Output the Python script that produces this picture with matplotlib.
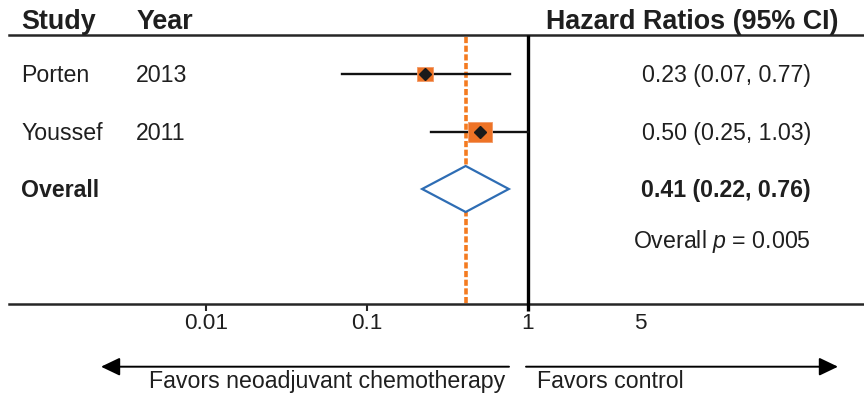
import numpy as np
import matplotlib
matplotlib.use("Agg")
import matplotlib.pyplot as plt
from matplotlib.path import Path

plt.rcParams['font.family'] = ['Liberation Sans', 'DejaVu Sans']
plt.rcParams['mathtext.fontset'] = 'custom'
plt.rcParams['mathtext.it'] = 'Liberation Sans:italic'
plt.rcParams['mathtext.rm'] = 'Liberation Sans'

# ---------------- data ----------------
studies = ["Porten", "Youssef"]
years = ["2013", "2011"]
hr = [0.23, 0.50]
ci_low = [0.07, 0.25]
ci_high = [0.77, 1.03]
weights = [33, 67]          # estimated relative study weights (box area)
overall_label = "Overall"
overall_hr = 0.41
overall_low = 0.22
overall_high = 0.76
overall_p = "0.005"
tick_values = [0.01, 0.1, 1, 5]
tick_labels = ["0.01", "0.1", "1", "5"]
tick_marks = [0.01, 0.1]

# ---------------- layout ----------------
W, H = 864, 393
fig = plt.figure(figsize=(W / 100, H / 100), dpi=100)
ax = fig.add_axes([0, 0, 1, 1])
ax.set_xscale('log')
x0_px, dec_px = 528, 161.0
ax.set_xlim(10 ** ((0 - x0_px) / dec_px), 10 ** ((W - x0_px) / dec_px))
ax.set_ylim(H, 0)
ax.axis('off')

TXT = '#1f1f1f'
ORANGE = '#EE7326'
DASH_ORANGE = '#F47B20'
BLUE = '#2E6DB4'
FS = 16.7

tr = ax.get_yaxis_transform()   # x in axes fraction, y in data (pixels from top)
fx = lambda px: px / W

row_y = [74, 131.5]
overall_y = 189
header_y = 29
line_y = 35
axis_y = 304

# header
ax.text(fx(21), header_y, "Study", transform=tr, fontsize=19.4, fontweight='bold',
        color=TXT, ha='left', va='baseline')
ax.text(fx(137), header_y, "Year", transform=tr, fontsize=19.4, fontweight='bold',
        color=TXT, ha='left', va='baseline')
ax.text(fx(838), header_y, "Hazard Ratios (95% CI)", transform=tr, fontsize=19.4,
        fontweight='bold', color=TXT, ha='right', va='baseline')
ax.axhline(line_y, xmin=fx(9), xmax=1, color='#262626', lw=1.8)

# reference lines
ax.vlines(1, line_y, axis_y + 7, color='black', lw=2.4, zorder=3)
ax.vlines(overall_hr, line_y + 2, axis_y, color=DASH_ORANGE, lw=2.6,
          linestyle=(0, (1.7, 0.7)), zorder=2)

# study rows
rect = Path([(-1.25, -1), (1.25, -1), (1.25, 1), (-1.25, 1), (-1.25, -1)],
            [Path.MOVETO, Path.LINETO, Path.LINETO, Path.LINETO, Path.CLOSEPOLY])
for i, y in enumerate(row_y):
    ax.text(fx(21), y + 8.2, studies[i], transform=tr, fontsize=FS, color=TXT,
            ha='left', va='baseline')
    ax.text(fx(136), y + 8.2, years[i], transform=tr, fontsize=FS, color=TXT,
            ha='left', va='baseline')
    ax.plot([ci_low[i], min(ci_high[i], 1)], [y, y], color='#111111', lw=1.7, zorder=4)
    ms = 2.13 * np.sqrt(weights[i])
    ax.plot([hr[i]], [y], marker=rect, markersize=ms, color=ORANGE,
            markeredgecolor='#F29A66', markeredgewidth=0.6, zorder=5)
    ax.plot([hr[i]], [y], marker='D', markersize=6.0, color='#1a1a1a', zorder=6)
    ax.text(fx(811), y + 8.2, f"{hr[i]:.2f} ({ci_low[i]:.2f}, {ci_high[i]:.2f})",
            transform=tr, fontsize=FS, color=TXT, ha='right', va='baseline')

# overall
ax.text(fx(21), overall_y + 8.2, overall_label, transform=tr, fontsize=FS,
        fontweight='bold', color=TXT, ha='left', va='baseline')
ax.fill([overall_low, overall_hr, overall_high, overall_hr, overall_low],
        [overall_y, overall_y - 23, overall_y, overall_y + 23, overall_y],
        facecolor='white', edgecolor=BLUE, lw=1.6, zorder=4)
ax.text(fx(811), overall_y + 8.2,
        f"{overall_hr:.2f} ({overall_low:.2f}, {overall_high:.2f})",
        transform=tr, fontsize=FS, fontweight='bold', color=TXT,
        ha='right', va='baseline')
ax.text(fx(811), 248, f"Overall $p$ = {overall_p}", transform=tr, fontsize=FS,
        color=TXT, ha='right', va='baseline')

# x axis
ax.axhline(axis_y, xmin=fx(9), xmax=1, color='#262626', lw=1.8)
ax.vlines(tick_marks, axis_y, axis_y + 7, color='#262626', lw=1.5)
for v, lab in zip(tick_values, tick_labels):
    ax.text(v, 329, lab, fontsize=16.2, color=TXT, ha='center', va='baseline')

# direction arrows
arr_y = 366.7
ap = dict(arrowstyle='-|>,head_length=1.15,head_width=0.55', color='black',
          lw=1.4, mutation_scale=10, shrinkA=0, shrinkB=0)
ax.annotate('', xy=(fx(101), arr_y), xytext=(fx(509), arr_y),
            xycoords=tr, textcoords=tr, arrowprops=ap)
ax.annotate('', xy=(fx(838), arr_y), xytext=(fx(526), arr_y),
            xycoords=tr, textcoords=tr, arrowprops=ap)
ax.text(fx(505), 388, "Favors neoadjuvant chemotherapy", transform=tr, fontsize=FS,
        color=TXT, ha='right', va='baseline')
ax.text(fx(537), 388, "Favors control", transform=tr, fontsize=FS,
        color=TXT, ha='left', va='baseline')

fig.savefig("out.png", dpi=100, facecolor='white')
